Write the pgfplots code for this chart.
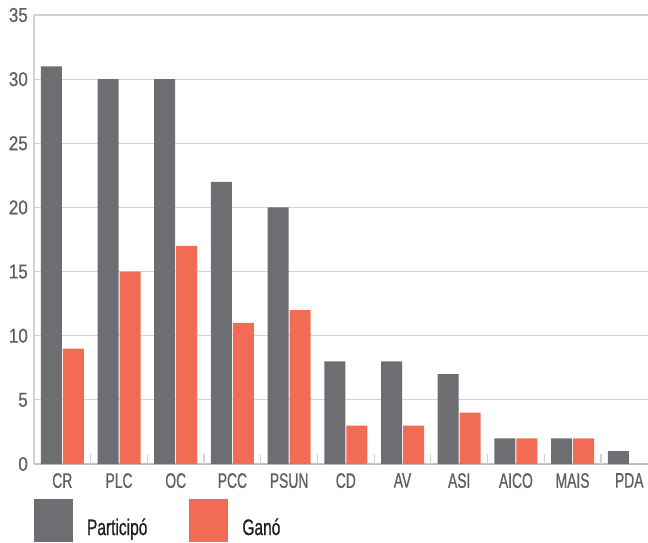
\documentclass[border=0pt]{standalone}
\usepackage{fontspec}
\setmainfont{Liberation Sans}[FakeStretch=0.69, FakeBold=0.8]
\newfontfamily\ytfont{Liberation Sans}[FakeStretch=0.85, FakeBold=0.8]
\newfontfamily\xtfont{Liberation Sans}[FakeStretch=0.66, FakeBold=0.8]
\usepackage{pgfplots}
\pgfplotsset{compat=1.18}
\definecolor{gris}{HTML}{6D6E71}
\definecolor{naranja}{HTML}{F26C55}
\definecolor{gridc}{HTML}{D1D3D4}
\definecolor{lab}{HTML}{5F6062}
\definecolor{legt}{HTML}{231F20}
\begin{document}
\begin{tikzpicture}
\useasboundingbox (0,0) rectangle (648pt,542pt);
\begin{axis}[
  at={(34pt,78pt)}, anchor=south west,
  width=614pt, height=449pt, scale only axis,
  xmin=-0.5, xmax=10.33, ymin=0, ymax=35,
  ybar=1pt, bar width=21pt,
  axis x line=bottom, axis y line=left,
  x axis line style={-, draw=gridc!80!gray, line width=1.2pt},
  y axis line style={-, draw=gridc, line width=1.2pt},
  ytick={0,5,...,35}, ymajorgrids,
  grid style={draw=gridc, line width=1.2pt},
  major tick length=0pt,
  xtick={0,...,10},
  xticklabels={CR,PLC,OC,PCC,PSUN,CD,AV,ASI,AICO,MAIS,PDA},
  extra x ticks={0.5,1.5,...,9.5}, extra x tick labels={},
  extra x tick style={major tick length=10pt, tick align=inside, grid=none,
     tick style={draw=gridc, line width=1.2pt}},
  /pgf/number format/assume math mode=true,
  xticklabel style={font=\xtfont\fontsize{21}{24}\selectfont, text=lab, inner sep=0pt, anchor=north, yshift=-9pt},
  yticklabel style={font=\ytfont\fontsize{20}{24}\selectfont, text=lab, inner sep=0pt, anchor=east, xshift=-6pt},
  legend style={at={(0,0)}, anchor=north west, yshift=-35pt, draw=none, fill=none,
     inner sep=0pt, outer sep=0pt, font=\fontsize{22.5}{26}\selectfont, text=legt,
     /tikz/every odd column/.append style={column sep=14pt},
     /tikz/every even column/.append style={column sep=42pt},
     nodes={inner sep=0pt}},
  legend columns=2,
]
\addplot[fill=gris, draw=none, legend image code/.code={\fill[gris] (0pt,-14.5pt) rectangle (39pt,28.5pt);}]
  coordinates {(0,31)(1,30)(2,30)(3,22)(4,20)(5,8)(6,8)(7,7)(8,2)(9,2)(10,1)};
\addplot[fill=naranja, draw=none, legend image code/.code={\fill[naranja] (0pt,-14.5pt) rectangle (39pt,28.5pt);}]
  coordinates {(0,9)(1,15)(2,17)(3,11)(4,12)(5,3)(6,3)(7,4)(8,2)(9,2)(10,0)};
\legend{Participó, Ganó}
\end{axis}
\end{tikzpicture}
\end{document}
